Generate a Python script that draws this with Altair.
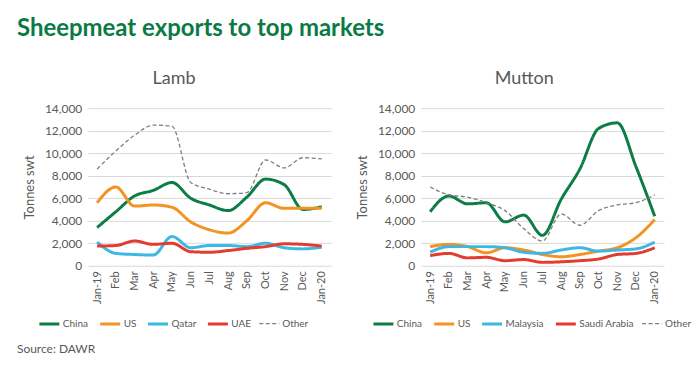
import altair as alt
import pandas as pd

months = ["Jan-19", "Feb", "Mar", "Apr", "May", "Jun", "Jul", "Aug", "Sep", "Oct", "Nov", "Dec", "Jan-20"]

lamb_names = ["China", "US", "Qatar", "UAE", "Other"]
lamb_china = [3400, 4800, 6200, 6700, 7400, 6000, 5400, 4900, 6100, 7700, 7200, 5000, 5250]
lamb_us = [5600, 7000, 5300, 5400, 5200, 3900, 3200, 2900, 4000, 5600, 5100, 5100, 5100]
lamb_qatar = [2100, 1100, 1000, 950, 2600, 1600, 1800, 1800, 1700, 2000, 1600, 1500, 1650]
lamb_uae = [1750, 1800, 2200, 1900, 2000, 1250, 1200, 1350, 1550, 1700, 1950, 1900, 1750]
lamb_other = [8600, 10200, 11600, 12500, 12400, 7400, 6800, 6400, 6500, 9400, 8700, 9600, 9500]

mutton_names = ["China", "US", "Malaysia", "Saudi Arabia", "Other"]
mutton_china = [4800, 6200, 5500, 5600, 3900, 4500, 2700, 5900, 8600, 12200, 12700, 8800, 4400]
mutton_us = [1700, 1900, 1700, 1150, 1600, 1400, 1000, 800, 1000, 1300, 1600, 2500, 4100]
mutton_malaysia = [1200, 1700, 1700, 1700, 1600, 1200, 1100, 1400, 1600, 1300, 1400, 1500, 2100]
mutton_saudi = [900, 1100, 700, 750, 450, 550, 300, 350, 450, 600, 1000, 1100, 1600]
mutton_other = [7000, 6300, 6100, 5600, 4900, 3300, 2200, 4600, 3600, 4900, 5400, 5600, 6300]

colors = ["#0B7D45", "#F39321", "#3DB7E4", "#E33B2E", "#7F7F7F"]
dashes = [[1, 0], [1, 0], [1, 0], [1, 0], [4, 2.5]]
widths = [3, 3, 3, 3, 1.3]
FONT = "Lato"
GREY = "#595959"


def make_df(names, series):
    rows = []
    for name, vals in zip(names, series):
        for m, v in zip(months, vals):
            rows.append({"month": m, "series": name, "value": v})
    return pd.DataFrame(rows)


def panel(df, title, names, legend_x, source=False):
    legend = alt.Legend(
        orient="none", legendX=legend_x, legendY=205, direction="horizontal",
        title=None, symbolType="stroke", symbolSize=400,
        labelFontSize=10, labelColor=GREY, labelFont=FONT, columnPadding=5,
        labelOffset=2, gridAlign="none", padding=0,
    )
    lines = alt.Chart(df).mark_line(interpolate="monotone").encode(
        x=alt.X("month:N", sort=months, scale=alt.Scale(type="point", padding=0.5),
                axis=alt.Axis(title=None, labelAngle=270, labelFontSize=11, labelColor=GREY,
                              labelFont=FONT, ticks=False, domain=False, labelPadding=5)),
        y=alt.Y("value:Q", scale=alt.Scale(domain=[0, 14000]),
                axis=alt.Axis(title="Tonnes swt", values=list(range(0, 14001, 2000)), format=",.0f",
                              labelFontSize=12, labelColor=GREY, labelFont=FONT, ticks=False,
                              domain=False, gridColor="#D9D9D9", labelPadding=6,
                              titleFontSize=13, titleFont=FONT, titleColor=GREY,
                              titleFontWeight="normal", titlePadding=8)),
        color=alt.Color("series:N", scale=alt.Scale(domain=names, range=colors), legend=legend),
        strokeDash=alt.StrokeDash("series:N", scale=alt.Scale(domain=names, range=dashes), legend=legend),
        strokeWidth=alt.StrokeWidth("series:N", scale=alt.Scale(type="ordinal", domain=names, range=widths),
                                    legend=legend),
    )
    layers = [lines]
    if source:
        src = alt.Chart(pd.DataFrame({"t": ["Source: DAWR"]})).mark_text(
            align="left", baseline="middle", fontSize=12, font=FONT, color=GREY
        ).encode(x=alt.value(-71), y=alt.value(242), text="t:N")
        layers.append(src)
    return alt.layer(*layers).properties(
        width=244, height=158,
        title=alt.TitleParams(title, fontSize=18, font=FONT, color=GREY, fontWeight="normal",
                              anchor="middle", frame="bounds", offset=14),
    ).resolve_scale(color="independent", strokeDash="independent", strokeWidth="independent")


lamb = panel(make_df(lamb_names, [lamb_china, lamb_us, lamb_qatar, lamb_uae, lamb_other]),
             "Lamb", lamb_names, -50, source=True)
mutton = panel(make_df(mutton_names, [mutton_china, mutton_us, mutton_malaysia, mutton_saudi, mutton_other]),
               "Mutton", mutton_names, -49)

chart = alt.hconcat(lamb, mutton, spacing=25).resolve_scale(
    color="independent", strokeDash="independent", strokeWidth="independent"
).properties(
    title=alt.TitleParams("Sheepmeat exports to top markets", fontSize=24, font=FONT,
                          fontWeight="bold", color="#0A7A45", anchor="start", offset=29),
    padding={"left": 9, "top": 9, "right": 0, "bottom": 0},
).configure_view(stroke=None)

chart.save("out.html", embed_options={"renderer": "svg", "actions": False})
